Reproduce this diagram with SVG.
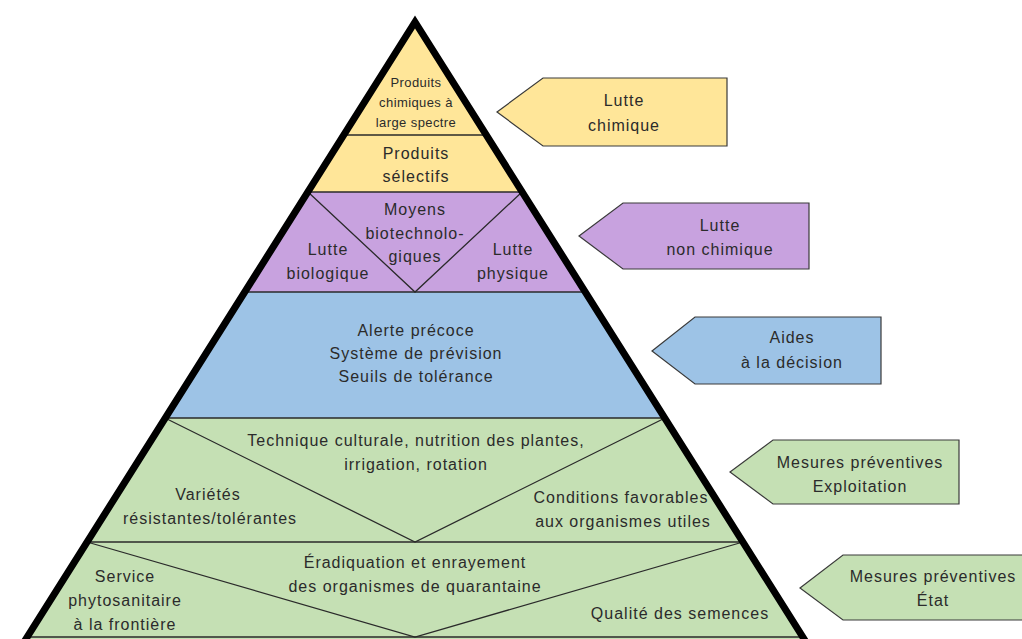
<svg xmlns="http://www.w3.org/2000/svg" width="1022" height="639" viewBox="0 0 1022 639">
<defs>
<style>
text{font-family:"Liberation Sans",Arial,sans-serif;font-size:16px;fill:#2b2b2b;text-anchor:middle;letter-spacing:1px}
.sm{font-size:13px;letter-spacing:0.4px}
.sep{stroke:#2a2a2a;stroke-width:1.3;fill:none}
.tag{stroke:#3a3a3a;stroke-width:1.2}
.yel{fill:#FFE699}.pur{fill:#C8A2DF}.blu{fill:#9DC3E6}.grn{fill:#C5E0B4}
</style>
<clipPath id="tri"><polygon points="415,22 19,650 811,650"/></clipPath>
</defs>
<rect width="1022" height="639" fill="#ffffff"/>
<g id="pyramid-fill" clip-path="url(#tri)">
<rect class="yel" x="0" y="0" width="1022" height="192"/>
<rect class="pur" x="0" y="192" width="1022" height="100"/>
<rect class="blu" x="0" y="292" width="1022" height="126"/>
<rect class="grn" x="0" y="418" width="1022" height="230"/>
</g>
<g id="connectors">
<line class="sep" x1="341" y1="135" x2="489" y2="135"/>
<line class="sep" x1="308" y1="192" x2="522" y2="192"/>
<line class="sep" x1="245" y1="292" x2="585" y2="292"/>
<line class="sep" x1="165" y1="418" x2="665" y2="418"/>
<line class="sep" x1="87" y1="542" x2="743" y2="542"/>
<line class="sep" x1="27" y1="637" x2="803" y2="637"/>
<polyline class="sep" points="308,192 415,292 522,192"/>
<polyline class="sep" points="165,418 415,542 665,418"/>
<polyline class="sep" points="87,542 415,637 743,542"/>
</g>
<polyline id="outline" points="19,650 415,22 811,650" fill="none" stroke="#000" stroke-width="7" stroke-linejoin="miter" stroke-miterlimit="10"/>
<g id="n-chimiques-large">
<text class="sm" x="416" y="87">Produits</text>
<text class="sm" x="416" y="107">chimiques à</text>
<text class="sm" x="416" y="127">large spectre</text>
</g>
<g id="n-selectifs">
<text x="416" y="159">Produits</text>
<text x="416" y="182">sélectifs</text>
</g>
<g id="n-biotech">
<text x="415" y="215">Moyens</text>
<text x="415" y="239">biotechnolo-</text>
<text x="415" y="262">giques</text>
</g>
<g id="n-biologique">
<text x="328" y="255">Lutte</text>
<text x="328" y="279">biologique</text>
</g>
<g id="n-physique">
<text x="513" y="255">Lutte</text>
<text x="513" y="279">physique</text>
</g>
<g id="n-aides-contenu">
<text x="416" y="336">Alerte précoce</text>
<text x="416" y="359">Système de prévision</text>
<text x="416" y="382">Seuils de tolérance</text>
</g>
<g id="n-technique">
<text x="416" y="446">Technique culturale, nutrition des plantes,</text>
<text x="416" y="470">irrigation, rotation</text>
</g>
<g id="n-varietes">
<text x="208" y="500">Variétés</text>
<text x="210" y="524">résistantes/tolérantes</text>
</g>
<g id="n-conditions">
<text x="621" y="503">Conditions favorables</text>
<text x="623" y="527">aux organismes utiles</text>
</g>
<g id="n-eradiquation">
<text x="415" y="568">Éradiquation et enrayement</text>
<text x="415" y="592">des organismes de quarantaine</text>
</g>
<g id="n-service">
<text x="125" y="582">Service</text>
<text x="125" y="606">phytosanitaire</text>
<text x="125" y="630">à la frontière</text>
</g>
<g id="n-semences">
<text x="680" y="619">Qualité des semences</text>
</g>
<g id="tag-chimique">
<polygon class="tag yel" points="497,112 543,78 727,78 727,146 543,146"/>
<text x="624" y="106">Lutte</text>
<text x="624" y="131">chimique</text>
</g>
<g id="tag-non-chimique">
<polygon class="tag pur" points="579,236 623,203 809,203 809,269 623,269"/>
<text x="720" y="231">Lutte</text>
<text x="720" y="255">non chimique</text>
</g>
<g id="tag-decision">
<polygon class="tag blu" points="652,351 695,317 881,317 881,384 695,384"/>
<text x="792" y="343">Aides</text>
<text x="792" y="368">à la décision</text>
</g>
<g id="tag-exploitation">
<polygon class="tag grn" points="730,472 773,440 959,440 959,504 773,504"/>
<text x="860" y="468">Mesures préventives</text>
<text x="860" y="492">Exploitation</text>
</g>
<g id="tag-etat">
<polygon class="tag grn" points="800,588 843,555 1030,555 1030,620 843,620"/>
<text x="933" y="582">Mesures préventives</text>
<text x="933" y="606">État</text>
</g>
</svg>
